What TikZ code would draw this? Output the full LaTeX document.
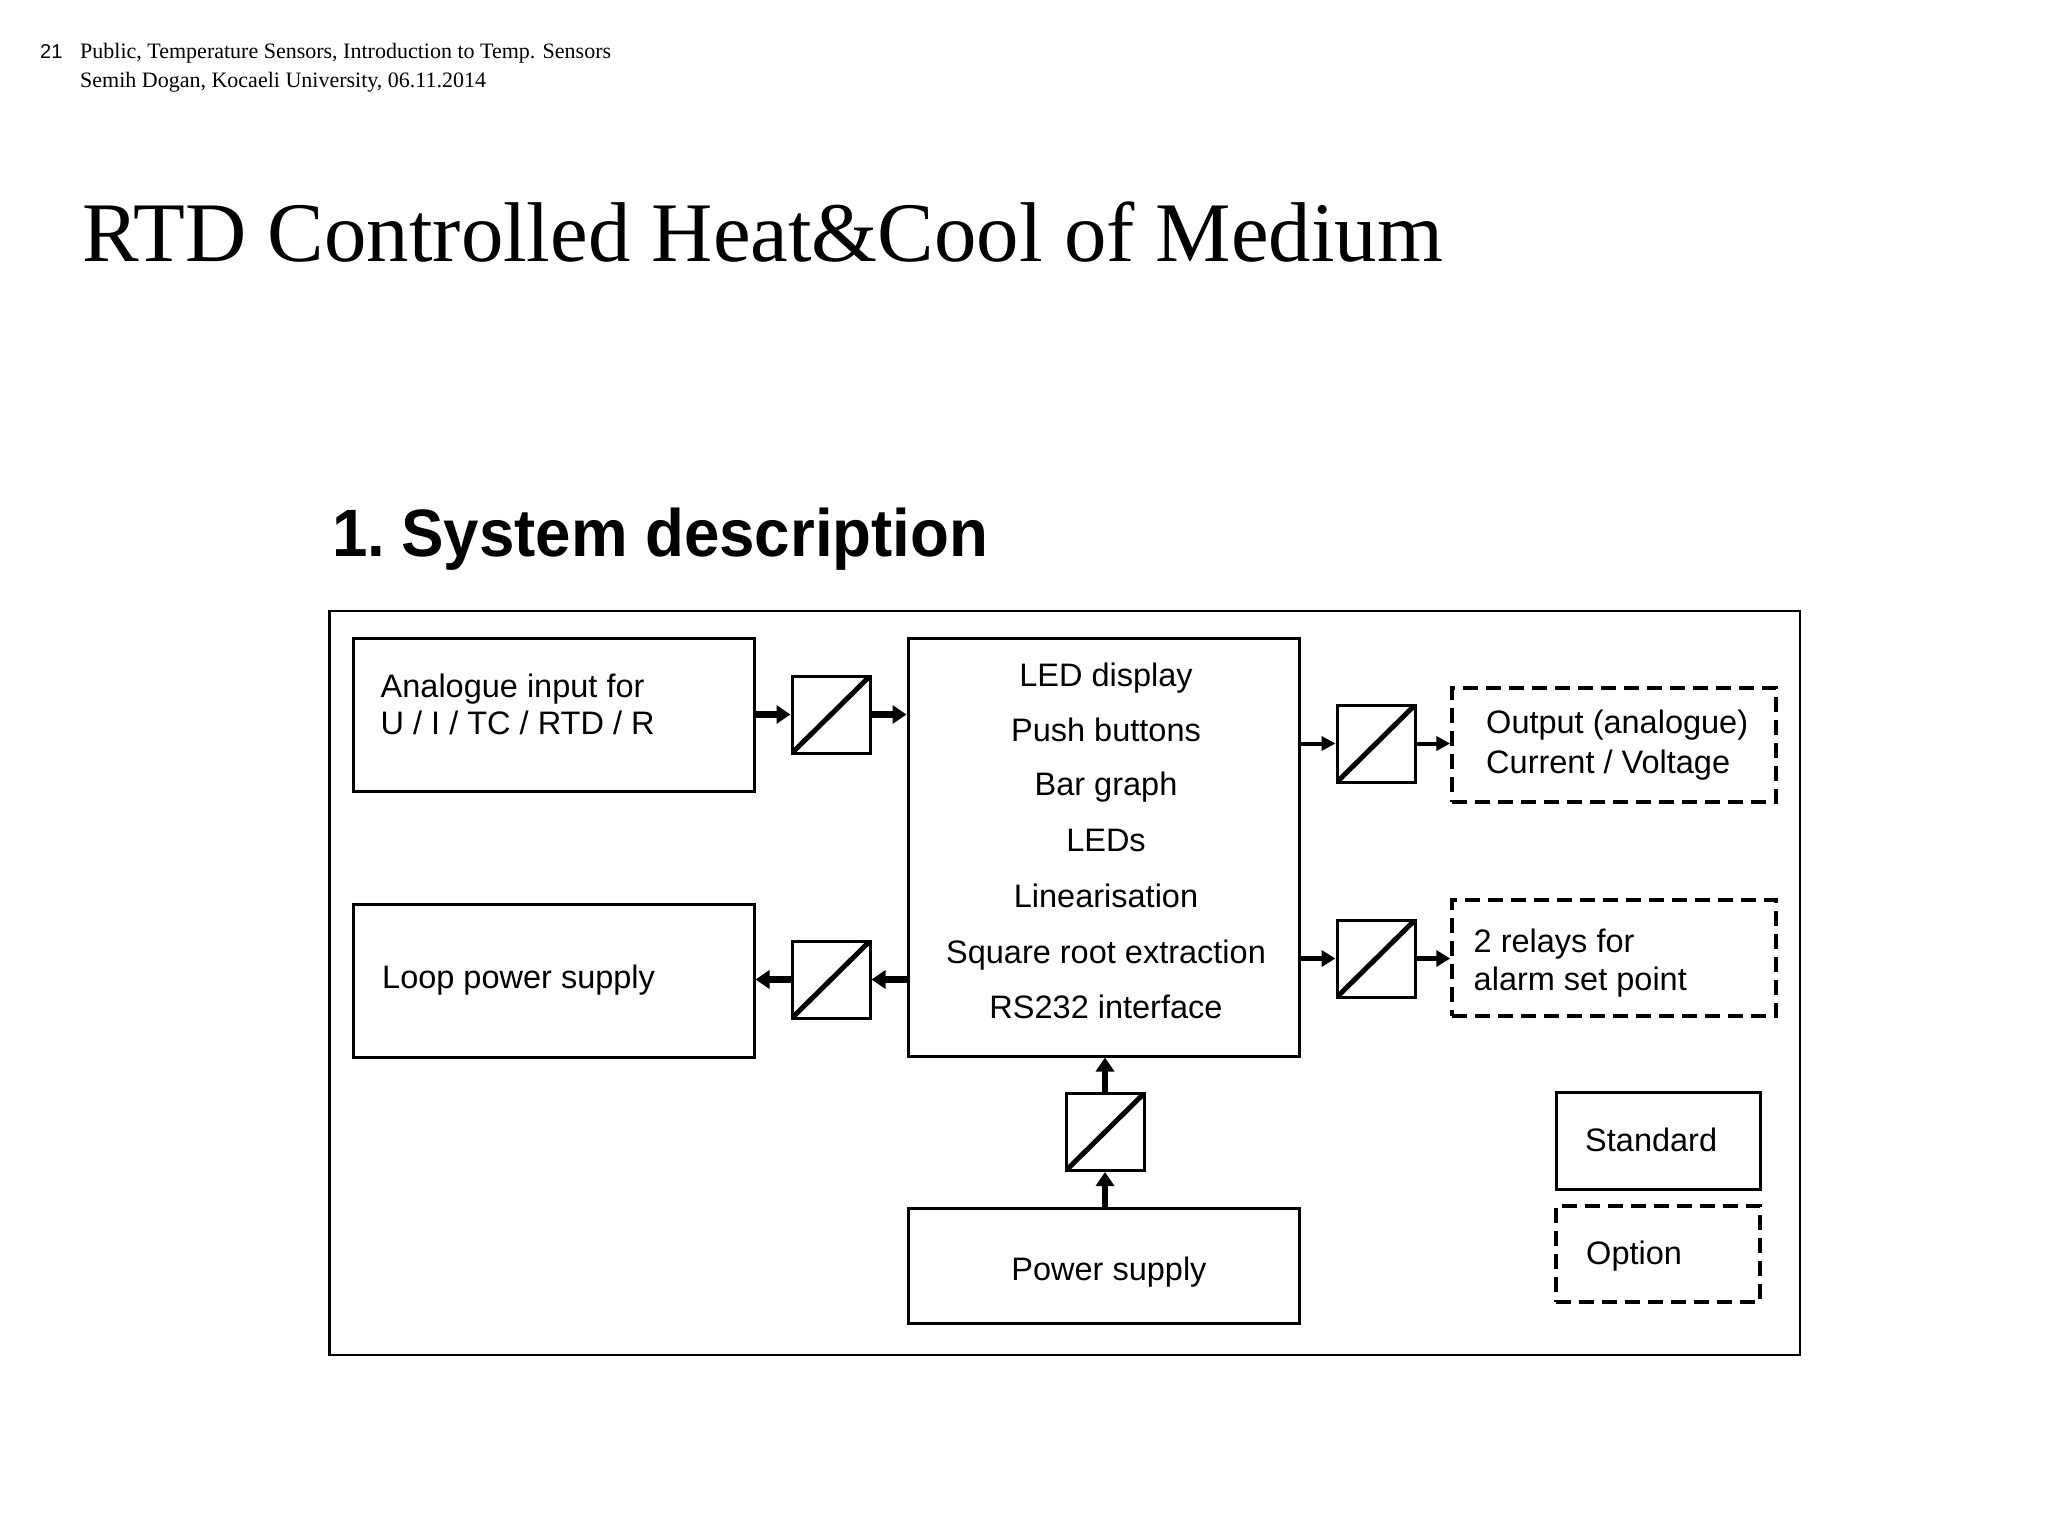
\documentclass[tikz,border=0pt]{standalone}
\usepackage{fontspec}
\setmainfont{Liberation Serif}
\newfontfamily\arial{Liberation Sans}
\usetikzlibrary{arrows.meta}
\begin{document}
\begin{tikzpicture}[x=1pt,y=-1pt,
  box/.style={draw, line width=3pt, inner sep=0pt},
  optbox/.style={draw, line width=3.5pt, dash pattern=on 15pt off 8pt, inner sep=0pt},
  conv/.style={draw, line width=3pt, minimum width=78pt, minimum height=77pt, inner sep=0pt,
    path picture={\draw[line width=5pt] (path picture bounding box.south west) -- (path picture bounding box.north east);}},
  lbl/.style={font=\arial\fontsize{32.5}{38}\selectfont, inner sep=0pt},
  hdr/.style={font=\fontsize{22}{26}\selectfont, inner sep=0pt, anchor=base west},
  thickarrow/.style={line width=6.5pt, -{Triangle[length=14pt,width=18pt]}},
  medarrow/.style={line width=5pt, -{Triangle[length=14pt,width=16pt]}},
  thinarrow/.style={line width=4pt, -{Triangle[length=14pt,width=14pt]}}]

\fill[white] (0,0) rectangle (2048,1536);
\useasboundingbox (0,0) rectangle (2048,1536);

% header
\node[hdr, font=\arial\fontsize{20}{24}\selectfont] (pagenum) at (40,59) {21};
\node[hdr] (hdr1) at (80,59) {Public, Temperature Sensors, Introduction to Temp. Sensors};
\node[hdr] (hdr2) at (80,88) {Semih Dogan, Kocaeli University, 06.11.2014};

% title
\node[inner sep=0pt, anchor=base west, font=\fontsize{84.8}{100}\selectfont] (title) at (82,261.5) {RTD Controlled Heat\&Cool of Medium};

% subtitle
\node[inner sep=0pt, anchor=base west, xscale=0.95, transform shape, font=\arial\bfseries\fontsize{67}{80}\selectfont] (sub) at (332,556) {1.\hspace{-0.12em} System description};

% frame
\node[draw, line width=2.5pt, inner sep=0pt, minimum width=1470.5pt, minimum height=744pt] (frame) at (1064.75,983) {};

% boxes
\node[box, minimum width=401pt, minimum height=153pt] (ana) at (553.5,714.5) {};
\node[box, minimum width=391pt, minimum height=418pt] (cent) at (1103.5,847) {};
\node[box, minimum width=401pt, minimum height=153pt] (loop) at (553.5,980.5) {};
\node[box, minimum width=391pt, minimum height=115pt] (power) at (1103.5,1265.5) {};
\node[optbox, minimum width=324pt, minimum height=114pt] (out) at (1614,745) {};
\node[optbox, minimum width=324pt, minimum height=116pt] (relay) at (1614,958) {};
\node[box, minimum width=204pt, minimum height=97pt] (std) at (1658,1140.5) {};
\node[optbox, minimum width=204pt, minimum height=96pt] (opt) at (1658,1254) {};

% converters
\node[conv] (c1) at (831,714.5) {};
\node[conv] (c2) at (831,979.5) {};
\node[conv] (co1) at (1376,743.5) {};
\node[conv] (co2) at (1376,958.5) {};
\node[conv] (cb) at (1105,1132) {};

% texts
\node[lbl, anchor=base west] (anat1) at (380.5,697) {Analogue input for};
\node[lbl, anchor=base west] (anat2) at (380.5,734) {U / I / TC / RTD / R};
\node[lbl, anchor=base west] (loopt) at (382,988) {Loop power supply};
\node[lbl, anchor=base] (powert) at (1109,1280) {Power supply};
\node[lbl, anchor=base west] (outt1) at (1486,733) {Output (analogue)};
\node[lbl, anchor=base west] (outt2) at (1486,773) {Current / Voltage};
\node[lbl, anchor=base west] (relt1) at (1473.5,952) {2 relays for};
\node[lbl, anchor=base west] (relt2) at (1473.5,990) {alarm set point};
\node[lbl, anchor=base west] (stdt) at (1585,1151) {Standard};
\node[lbl, anchor=base west] (optt) at (1586,1264) {Option};

\node[lbl, anchor=base] (ct1) at (1106,686) {LED display};
\node[lbl, anchor=base] (ct2) at (1106,741) {Push buttons};
\node[lbl, anchor=base] (ct3) at (1106,795.5) {Bar graph};
\node[lbl, anchor=base] (ct4) at (1106,851) {LEDs};
\node[lbl, anchor=base] (ct5) at (1106,907) {Linearisation};
\node[lbl, anchor=base] (ct6) at (1106,963) {Square root extraction};
\node[lbl, anchor=base] (ct7) at (1106,1018) {RS232 interface};

% connectors
\draw[thickarrow] (ana.east |- c1.west) -- (c1.west);
\draw[thickarrow] (c1.east) -- (c1.east -| cent.west);
\draw[thickarrow] (cent.west |- c2.east) -- (c2.east);
\draw[thickarrow] (c2.west) -- (c2.west -| loop.east);
\draw[thinarrow] (cent.east |- co1.west) -- (co1.west);
\draw[thinarrow] (co1.east) -- (co1.east -| out.west);
\draw[medarrow] (cent.east |- co2.west) -- (co2.west);
\draw[medarrow] (co2.east) -- (co2.east -| relay.west);
\draw[thickarrow] (cb.south |- power.north) -- (cb.south);
\draw[thickarrow] (cb.north) -- (cb.north |- cent.south);
\end{tikzpicture}
\end{document}
